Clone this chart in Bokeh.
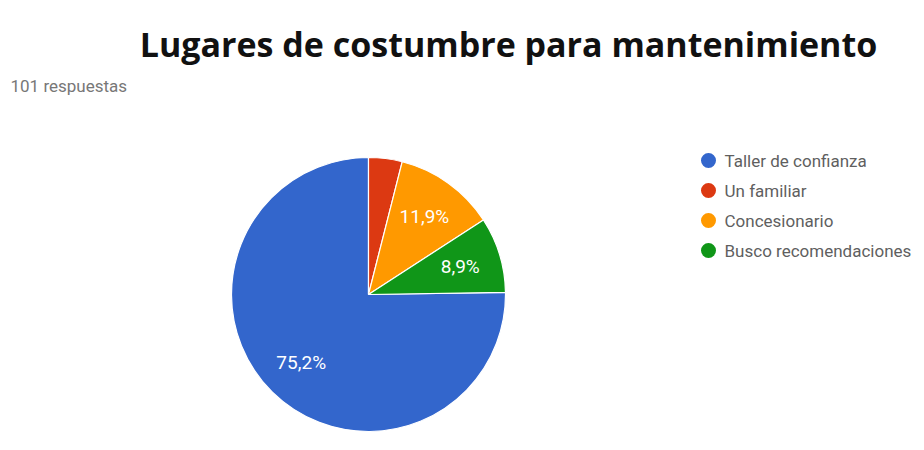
import numpy as np
from bokeh.plotting import figure
from bokeh.models import Range1d, ColumnDataSource
from bokeh.core.properties import value
from bokeh.embed import file_html
from bokeh.resources import INLINE

title = "Lugares de costumbre para mantenimiento"
subtitle = "101 respuestas"
categories = ["Taller de confianza", "Un familiar", "Concesionario", "Busco recomendaciones"]
counts = [76, 4, 12, 9]
labels = ["75,2%", "", "11,9%", "8,9%"]
colors = ["#3366cc", "#dc3912", "#ff9900", "#109618"]

W, H = 916, 442
p = figure(width=W, height=H, output_backend="svg", toolbar_location=None,
           x_range=Range1d(0, W), y_range=Range1d(0, H), min_border=0)
p.axis.visible = False
p.grid.visible = False
p.outline_line_color = None


def sy(v):
    # convert a top-down pixel offset to the upward data axis
    return H - v


# pie geometry
cx, cy, r = 368, sy(294), 137
vals = np.array(counts, dtype=float)
frac = vals / vals.sum()
offset = 1 - frac[0]
cum_start = (offset + np.concatenate([[0], np.cumsum(frac)[:-1]])) % 1.0
cum_end = cum_start + frac
start = np.pi / 2 - 2 * np.pi * cum_start
end = np.pi / 2 - 2 * np.pi * cum_end
mid = (start + end) / 2

src = ColumnDataSource(dict(start=start, end=end, color=colors))
p.wedge(x=cx, y=cy, radius=r, radius_units="screen", start_angle="start", end_angle="end",
        direction="clock", fill_color="color", line_color="white", line_width=1.2, source=src)

lx = cx + 0.70 * r * np.cos(mid)
ly = cy + 0.70 * r * np.sin(mid)
lsrc = ColumnDataSource(dict(x=lx, y=ly, t=labels))
p.text(x="x", y="y", text="t", source=lsrc, text_color="white", text_align="center",
       text_baseline="middle", text_font=value("Roboto"), text_font_size="19px")

# title and subtitle
p.text(x=[508], y=[sy(43)], text=[title], text_align="center", text_baseline="alphabetic",
       text_font=value("Open Sans"), text_font_style="bold", text_font_size="34px", text_color="#111111")
p.text(x=[10], y=[sy(85)], text=[subtitle], text_align="left", text_baseline="middle",
       text_font=value("Roboto"), text_font_size="17px", text_color="#777777")

# legend
n = len(categories)
ys = sy(160) - 30 * np.arange(n)
p.scatter(x=[708] * n, y=ys, size=15, marker="circle", fill_color=colors, line_color=None)
p.text(x=[724] * n, y=ys, text=categories, text_align="left", text_baseline="middle",
       text_font=value("Roboto"), text_font_size="17px", text_color="#5f5f5f")

open("out.html", "w").write(file_html(p, INLINE))
